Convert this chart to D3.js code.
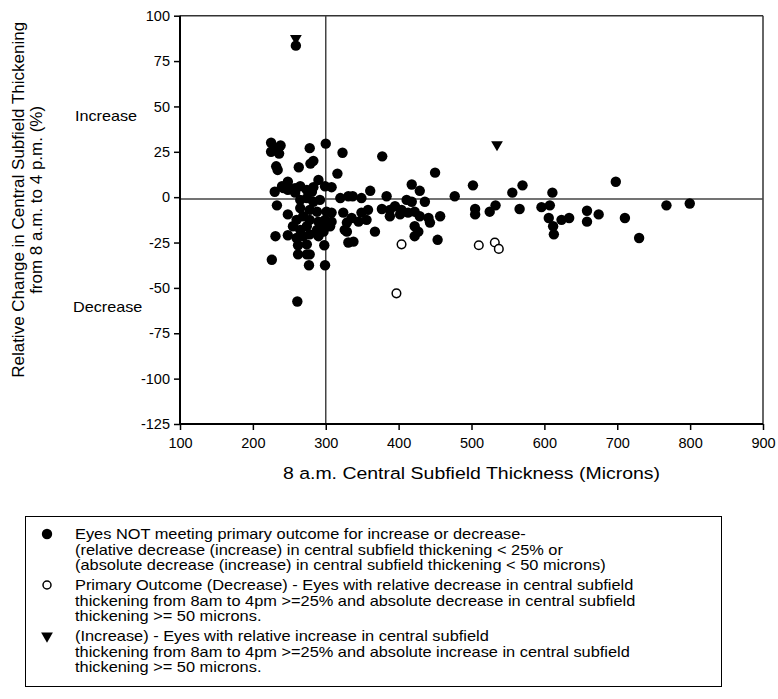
<!DOCTYPE html>
<html><head><meta charset="utf-8">
<script src="https://cdn.jsdelivr.net/npm/d3@7"></script>
<style>
body{margin:0;background:#fff}
svg{display:block}
text{font-family:"Liberation Sans",Arial,Helvetica,sans-serif;fill:#000}
</style>
</head><body>
<svg id="chart" width="778" height="699"></svg>
<script>
// ---- data ----
const xTicks = [100, 200, 300, 400, 500, 600, 700, 800, 900];
const yTicks = [100, 75, 50, 25, 0, -25, -50, -75, -100, -125];

// Eyes NOT meeting primary outcome (filled circles): [8am CST, relative change %]
const notMet = [
  [225,30],[238,28.5],[225,25],[236,24],[231,27],[278,27],[300,29.5],[323,24.5],[283,20],[279,18.5],
  [232,17],[234,15],[263,16.5],[316,13],[290,9.5],[248,8.5],[240,6],[230,3],[308,5.5],[265,6],
  [274,4],[281,3],[248,4],[258,2.5],[320,-0.5],[331,0.5],[233,-4.5],[248,-9.5],[265,-1.5],[274,-0.5],
  [283,-2.5],[292,-1.5],[265,-6],[278,-7],[288,-8],[301,-8],[269,-10.5],[260,-12.5],[278,-12.5],[290,-13.5],
  [299,-12.5],[308,-8.5],[308,-13.5],[255,-16],[265,-18],[274,-16],[288,-18],[297,-19],[306,-16],[326,-18],
  [329,-19],[231,-21.5],[248,-21],[260,-22.5],[269,-21.5],[278,-20.5],[290,-21.5],[298,-26.5],[331,-25],[262,-26.5],
  [274,-26],[262,-31.5],[274,-31.5],[226,-34.5],[277,-37.5],[299,-37.5],[261,-57.5],[259,83.5],[242,5],[258,5],
  [283,5.5],[299,6],[294,-16],[303,-15],[278,-31.5],
  [377.5,22.5],[450,13.5],[502,6.5],[570,6.5],[556,2.5],[477,0.5],[505,-6.5],[505,-9.5],[525,-8],[533,-4.5],
  [566,-6.5],[596,-5.5],[418,7],[429,3.5],[436,-2.5],[361,3.5],[337,0.5],[349,-0.5],[383.5,0.5],[377,-6.5],
  [388,-7],[395,-5],[404,-7],[411,-1.5],[418,-2.5],[413,-8.5],[402,-9.5],[388,-10.5],[422,-8],[429,-10.5],
  [441,-11.5],[457,-10.5],[443,-14],[422,-16],[427,-19],[422,-21.5],[453.5,-23.5],[338,-24.5],[367.5,-19],[358,-7],
  [349,-8.5],[356,-12.5],[345,-13.5],[324,-8.5],[329,-14],[335.5,-11.5],
  [611,2.5],[698,8.5],[799.5,-3.5],[767.5,-4.5],[607.5,-4.5],[606,-11.5],[623.5,-12.5],[634,-11.5],[612,-16],[613,-20.5],
  [658.5,-7.5],[658.5,-13.5],[674.5,-9.5],[710.5,-11.5],[730,-22.5]
];
// Primary outcome (decrease): open circles
const decrease = [[404,-26],[510,-26.5],[532,-25],[537.5,-28.5],[397,-53]];
// Increase: down triangles
const increase = [[259,87.5],[535,29]];

const refX = 300;   // vertical reference line
const refY = -1;    // horizontal reference line

const xTitle = "8 a.m. Central Subfield Thickness (Microns)";
const yTitle = ["Relative Change in Central Subfield Thickening", "from 8 a.m. to 4 p.m. (%)"];
const legendItems = [
  {type:"filled", lines:["Eyes NOT meeting primary outcome for increase or decrease-",
    "(relative decrease (increase) in central subfield thickening < 25% or",
    "(absolute decrease (increase) in central subfield thickening < 50 microns)"]},
  {type:"open", lines:["Primary Outcome (Decrease) - Eyes with relative decrease in central subfield",
    "thickening from 8am to 4pm >=25% and absolute decrease in central subfield",
    "thickening >= 50 microns."]},
  {type:"tri", lines:["(Increase) - Eyes with relative increase in central subfield",
    "thickening from 8am to 4pm >=25% and absolute increase in central subfield",
    "thickening >= 50 microns."]}
];

// ---- drawing ----
const svg = d3.select("#chart");
const L = 180, R = 763, T = 15.7, B = 424;
const x = d3.scaleLinear().domain([100, 900]).range([L, R]);
const y = d3.scaleLinear().domain([-125, 100]).range([B, T]);

function wideText(parent, px, py, str, size, sx, anchor) {
  return parent.append("text")
    .attr("transform", `translate(${px},${py}) scale(${sx},1)`)
    .attr("x", 0).attr("y", 0).attr("font-size", size)
    .attr("text-anchor", anchor || "start").text(str);
}

// frame (top + right)
svg.append("line").attr("x1", L).attr("x2", R).attr("y1", T).attr("y2", T)
  .attr("stroke", "#333").attr("stroke-width", 1.5);
svg.append("line").attr("x1", R).attr("x2", R).attr("y1", T).attr("y2", B)
  .attr("stroke", "#333").attr("stroke-width", 1.5);

// reference lines
svg.append("line").attr("x1", L).attr("x2", R).attr("y1", y(refY)).attr("y2", y(refY))
  .attr("stroke", "#444").attr("stroke-width", 1.5);
svg.append("line").attr("x1", x(refX)).attr("x2", x(refX)).attr("y1", T).attr("y2", B)
  .attr("stroke", "#444").attr("stroke-width", 1.5);

// axes
const fmt = d => String(d);
const xAxis = d3.axisBottom(x).tickValues(xTicks).tickSize(6).tickPadding(8).tickFormat(fmt);
const yAxis = d3.axisLeft(y).tickValues(yTicks).tickSize(6).tickPadding(4).tickFormat(fmt);
const gx = svg.append("g").attr("transform", `translate(0,${B})`).call(xAxis);
const gy = svg.append("g").attr("transform", `translate(${L},0)`).call(yAxis);
[gx, gy].forEach(g => {
  g.select(".domain").attr("stroke", "#000").attr("stroke-width", 2);
  g.selectAll(".tick line").attr("stroke", "#000").attr("stroke-width", 1.5);
  g.selectAll(".tick text").attr("font-family", "Liberation Sans, Arial, sans-serif")
    .attr("font-size", 14.5).attr("fill", "#000");
});
gx.select(".domain").attr("d", `M${L},0H${R}`);
gy.select(".domain").attr("d", `M0,${T}V${B}`);

// points
const sym = d3.symbol().type(d3.symbolTriangle).size(60);
svg.append("g").selectAll("circle").data(notMet).join("circle")
  .attr("cx", d => x(d[0])).attr("cy", d => y(d[1])).attr("r", 5.2).attr("fill", "#000");
svg.append("g").selectAll("circle").data(decrease).join("circle")
  .attr("cx", d => x(d[0])).attr("cy", d => y(d[1])).attr("r", 4.3)
  .attr("fill", "#fff").attr("stroke", "#000").attr("stroke-width", 1.5);
svg.append("g").selectAll("path").data(increase).join("path")
  .attr("d", sym).attr("fill", "#000")
  .attr("transform", d => `translate(${x(d[0])},${y(d[1])}) rotate(180)`);

// Increase / Decrease annotations
wideText(svg, 75, y(45) + 5, "Increase", 15, 1.08);
wideText(svg, 73, y(-60.5) + 5, "Decrease", 15, 1.08);

// axis titles
wideText(svg, (L + R) / 2, 479, xTitle, 17, 1.146, "middle");
const yt = svg.append("g").attr("transform", `translate(0,${(T + B) / 2 - 20}) rotate(-90)`);
yt.append("text").attr("x", 0).attr("y", 24).attr("text-anchor", "middle").attr("font-size", 17).text(yTitle[0]);
yt.append("text").attr("x", 0).attr("y", 42).attr("text-anchor", "middle").attr("font-size", 17).text(yTitle[1]);

// legend
const lg = svg.append("g");
lg.append("rect").attr("x", 25.5).attr("y", 516.5).attr("width", 696).attr("height", 170)
  .attr("fill", "none").attr("stroke", "#000").attr("stroke-width", 1);
const lineH = 15.5, gap = 4.5;
let cy = 534;
legendItems.forEach(item => {
  const my = cy;
  if (item.type === "filled") {
    lg.append("circle").attr("cx", 47).attr("cy", my).attr("r", 5.2).attr("fill", "#000");
  } else if (item.type === "open") {
    lg.append("circle").attr("cx", 47).attr("cy", my).attr("r", 4).attr("fill", "#fff")
      .attr("stroke", "#000").attr("stroke-width", 1.5);
  } else {
    lg.append("path").attr("d", sym).attr("fill", "#000")
      .attr("transform", `translate(47,${my}) rotate(180)`);
  }
  item.lines.forEach((t, i) => {
    wideText(lg, 75, cy + 5 + i * lineH, t, 14, 1.17);
  });
  cy += item.lines.length * lineH + gap;
});
</script>
</body></html>
